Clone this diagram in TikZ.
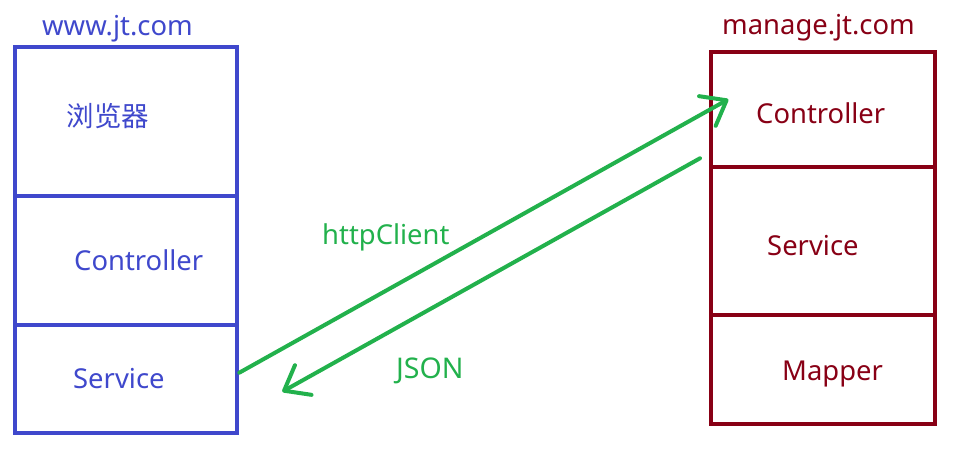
\documentclass[tikz,border=0pt]{standalone}
\usepackage{fontspec}
\setmainfont{Noto Sans}
\newfontfamily\cjk{Noto Sans CJK SC}
\usetikzlibrary{arrows.meta}
\definecolor{pblue}{HTML}{3F48CC}
\definecolor{pred}{HTML}{880015}
\definecolor{pgreen}{HTML}{22B14C}
\begin{document}
\begin{tikzpicture}[x=1pt,y=-1pt,
  bcell/.style={draw=pblue,line width=4pt,anchor=north west,inner sep=0pt,outer sep=0pt},
  rcell/.style={draw=pred,line width=4.3pt,anchor=north west,inner sep=0pt,outer sep=0pt},
  btxt/.style={text=pblue,font=\fontsize{27.4}{30}\selectfont,inner sep=0pt,anchor=base west},
  rtxt/.style={text=pred,font=\fontsize{27.4}{30}\selectfont,inner sep=0pt,anchor=base west},
  gtxt/.style={text=pgreen,font=\fontsize{27.4}{30}\selectfont,inner sep=0pt,anchor=base west},
  flow/.style={draw=pgreen,line width=4pt,line cap=round,
    -{Straight Barb[length=22pt,width=34pt,round]}}]
\useasboundingbox (0,0) rectangle (956,449);
% left box
\node[bcell,minimum width=222.5pt,minimum height=148.1pt] (lb1) at (14.5,47.5) {};
\node[bcell,minimum width=222.5pt,minimum height=129.4pt] (lb2) at (14.5,195.6) {};
\node[bcell,minimum width=222.5pt,minimum height=108pt] (lb3) at (14.5,325) {};
% right box
\node[rcell,minimum width=224.6pt,minimum height=115pt] (rb1) at (710.7,51.7) {};
\node[rcell,minimum width=224.6pt,minimum height=148.3pt] (rb2) at (710.7,166.7) {};
\node[rcell,minimum width=224.6pt,minimum height=109.3pt] (rb3) at (710.7,315) {};
% labels
\node[btxt] (lt) at (42,36) {www.jt.com};
\node[text=pblue,font=\cjk\fontsize{27.5}{30}\selectfont,inner sep=0pt] (lbr) at (108,116) {浏览器};
\node[btxt] (lc) at (74,270.7) {Controller};
\node[btxt] (ls) at (73,388.3) {Service};
\node[rtxt] (rt) at (722,35) {manage.jt.com};
\node[rtxt] (rc) at (756,124) {Controller};
\node[rtxt] (rs) at (767,255) {Service};
\node[rtxt] (rm) at (782,380) {Mapper};
\node[gtxt] (hc) at (322,244.3) {httpClient};
\node[gtxt,font=\fontsize{28.5}{30}\selectfont] (js) at (396,378.3) {JSON};
% arrows
\coordinate (a1s) at (239.3,372.7);
\coordinate (a1e) at (728.3,99.3);
\coordinate (a2s) at (700,158.3);
\coordinate (a2e) at (282.3,391.7);
\draw[flow] (a1s) -- (a1e);
\draw[flow] (a2s) -- (a2e);
\end{tikzpicture}
\end{document}
